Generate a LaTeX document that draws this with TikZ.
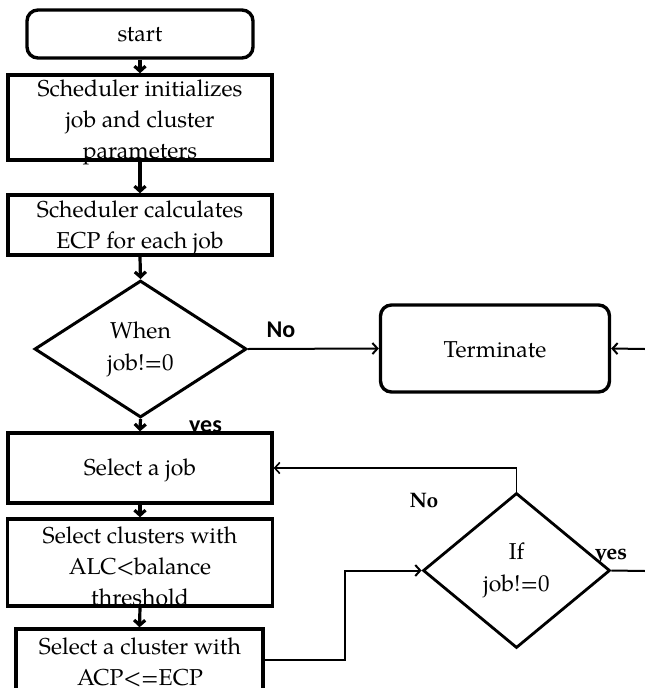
\documentclass[tikz,border=0pt]{standalone}
\usepackage{fontspec}
\newfontfamily\sansb{Carlito}
\newfontfamily\pal{TeX Gyre Pagella}
\usetikzlibrary{shapes.geometric,arrows.meta,calc}
\begin{document}
\begin{tikzpicture}[x=1pt,y=-1pt,
  box/.style={draw, fill=white, line width=3.4pt, inner sep=0pt},
  rbox/.style={box, rounded corners=11pt},
  dia/.style={draw, fill=white, diamond, line width=3pt, inner sep=0pt, align=center,
     font=\pal\fontsize{23}{32}\selectfont},
  txt/.style={inner sep=0pt, align=center, font=\pal\fontsize{23}{31}\selectfont},
  conn/.style={-{Straight Barb[length=5pt,width=11pt]}, line width=3.2pt},
  conn2/.style={-{Straight Barb[length=5pt,width=11pt]}, line width=2pt},
  plain/.style={line width=2pt},
  lsans/.style={inner sep=0pt, anchor=base, font=\sansb\bfseries\fontsize{24}{28}\selectfont},
  lserif/.style={inner sep=0pt, anchor=base, font=\pal\bfseries\fontsize{21}{24}\selectfont}
]
\useasboundingbox (0,0) rectangle (645,688);
\clip (0,0) rectangle (645,688);

% labels (drawn first so that the boxes hide what lies under them)
\node[lsans] (lno1) at (281,337) {No};
\node[lsans] (lyes1) at (205.5,432) {yes};
\node[lserif] (lno2) at (424,507) {No};
\node[lserif, font=\pal\bfseries\fontsize{22}{24}\selectfont] (lyes2) at (611,559) {yes};

% boxes
\node[rbox, minimum width=226pt, minimum height=48pt] (start) at (140,34) {};
\node[txt] (tstart) at (140,35) {start};

\node[box, minimum width=264pt, minimum height=85pt] (b1) at (140,117.5) {};
\node[txt] (tb1) at (140,122) {Scheduler initializes\\job and cluster\\parameters};

\node[box, minimum width=264pt, minimum height=60pt] (b2) at (140,225) {};
\node[txt] (tb2) at (140,228) {Scheduler calculates\\ECP for each job};

\node[dia, minimum width=212pt, minimum height=137pt] (d1) at (140.5,349) {When\\job!=0};

\node[rbox, minimum width=229pt, minimum height=87pt] (term) at (495,348.5) {};
\node[txt] (tterm) at (495,350) {Terminate};

\node[box, minimum width=264pt, minimum height=70pt] (sj) at (140,468) {};
\node[txt] (tsj) at (140,470) {Select a job};

\node[box, minimum width=265pt, minimum height=87pt] (sc) at (140,562.5) {};
\node[txt] (tsc) at (140,566) {Select clusters with\\ALC<balance\\threshold};

\node[box, minimum width=247pt, minimum height=62pt] (scl) at (139.5,660) {};
\node[txt] (tscl) at (140,662) {Select a cluster with\\ACP<=ECP};

\node[dia, minimum width=187pt, minimum height=155pt, line width=2.8pt] (d2) at (516.5,570.5) {If\\job!=0};

% connectors
\draw[conn] (start.south) -- (b1.north);
\draw[conn] (b1.south) -- (b2.north);
\draw[conn] (b2.south) -- (d1.north);
\draw[conn] (d1.south) -- (sj.north);
\draw[conn2] (d1.east) -- (term.west);
\coordinate (rin) at (645,349);
\draw[conn2] (rin) -- (term.east);
\draw[conn] (sj.south) -- (sc.north);
\draw[conn] (sc.south) -- (scl.north);
\draw[conn2] (scl.east) -- ++(80,0) |- (d2.west);
\draw[conn2, line width=1.6pt] (d2.north) |- (sj.east);
\coordinate (rout) at (645,571);
\draw[plain] (d2.east) -- (rout);
\end{tikzpicture}
\end{document}
